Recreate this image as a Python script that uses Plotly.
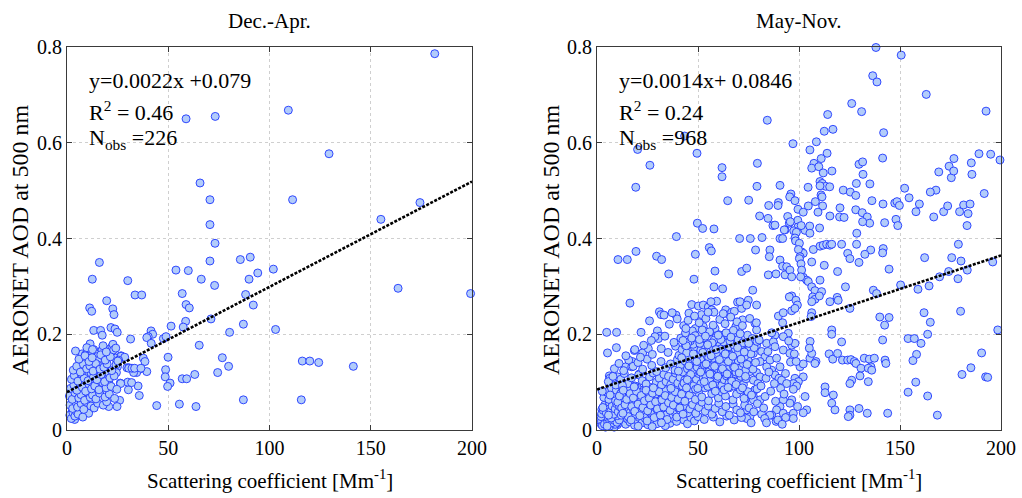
import plotly.graph_objects as go

# ---------------- Dec.-Apr. panel (scattering coefficient, AOD) ----------------
dec_apr_sparse = [
    (181.6, .786), (58.8, .650), (73.2, .655), (109.3, .668), (129.4, .577), (65.7, .516),
    (70.6, .481), (111.4, .481), (70.6, .429), (155.0, .440), (174.3, .475), (73.1, .390),
    (70.6, .353), (85.6, .356), (90.5, .361), (16.0, .350), (53.8, .334), (59.9, .333),
    (94.2, .328), (101.9, .336), (12.5, .315), (30.0, .312), (66.3, .315), (72.9, .302),
    (89.9, .315), (33.6, .282), (36.9, .282), (56.9, .285), (88.2, .283), (163.5, .296),
    (199.3, .285), (19.6, .270), (11.2, .255), (12.2, .248), (22.6, .253), (23.2, .241),
    (58.8, .262), (60.4, .255), (92.0, .261), (71.1, .232), (58.6, .227), (57.4, .215),
    (87.1, .221), (103.0, .210), (80.3, .204), (51.4, .217), (13.2, .208), (16.6, .208),
    (17.4, .198), (21.7, .214), (23.7, .211), (24.8, .204), (31.4, .190), (41.5, .207),
    (42.3, .200), (40.1, .195), (39.4, .193), (41.6, .181), (47.6, .191), (48.9, .195),
    (65.3, .177), (49.9, .152), (76.7, .151), (79.8, .133), (74.4, .120), (48.7, .126),
    (48.5, .111), (50.9, .098), (49.7, .091), (56.9, .107), (59.1, .107), (63.1, .116),
    (116.2, .144), (119.9, .144), (124.3, .141), (141.4, .133), (87.1, .063), (115.7, .063),
    (44.3, .051), (55.5, .054), (63.7, .049), (37.7, .150), (38.5, .143), (39.4, .122),
    (35.9, .127), (34.4, .120), (35.1, .092), (35.7, .072), (30.3, .084), (30.0, .100),
    (31.9, .099), (32.9, .120), (26.3, .098), (26.0, .062), (24.7, .049), (20.6, .049),
    (26.7, .155), (29.6, .130), (30.6, .130),
]
dec_apr_edge = [
    (11.4, .180), (13.2, .168), (7.4, .159), (9.1, .157), (13.8, .160), (14.6, .153),
    (17.3, .167), (15.1, .145), (15.1, .136), (15.3, .127), (15.6, .117), (20.1, .168),
    (20.9, .160), (22.2, .174), (22.7, .179), (23.0, .167), (23.9, .150), (26.7, .154),
    (28.5, .152), (25.5, .146), (24.9, .132), (30.5, .129), (32.1, .129), (33.4, .129),
    (36.5, .129), (26.5, .097), (24.4, .120), (20.2, .118), (17.3, .111), (20.6, .100),
    (18.1, .094), (6.6, .108), (9.9, .124), (10.4, .118), (3.8, .042), (3.3, .035),
    (4.1, .028), (3.8, .022), (2.5, .038), (10.7, .035),
]
dec_apr_core = [
    (1.4, .031), (2.1, .024), (3.0, .036), (3.9, .029), (4.6, .039), (5.5, .033), (7.8, .027),
    (1.5, .052), (2.8, .045), (4.5, .057), (5.2, .048), (7.0, .055), (8.3, .043), (9.5, .058),
    (11.8, .050), (13.4, .046), (15.2, .056), (17.9, .052), (19.6, .059),
    (1.2, .071), (2.6, .064), (3.9, .078), (5.8, .067), (6.9, .074), (8.7, .062), (10.1, .079),
    (11.5, .068), (12.6, .073), (14.3, .065), (16.1, .077), (18.8, .069), (20.9, .075), (23.5, .066),
    (1.8, .087), (3.4, .094), (4.9, .083), (6.3, .098), (7.6, .089), (9.2, .081), (10.8, .096),
    (12.1, .086), (13.7, .092), (15.8, .084), (17.6, .099), (19.3, .088), (21.8, .091), (24.6, .085),
    (2.2, .106), (3.6, .114), (5.4, .102), (7.1, .117), (8.5, .108), (10.4, .103), (11.9, .119),
    (13.1, .111), (14.8, .105), (16.9, .116), (18.6, .101), (21.2, .109), (23.3, .113),
    (3.1, .125), (4.8, .133), (6.6, .121), (8.1, .137), (9.7, .128), (11.3, .134), (12.9, .123),
    (14.1, .139), (16.3, .127), (18.2, .131), (19.8, .138), (22.1, .124), (24.2, .136),
    (5.9, .148), (8.9, .155), (10.9, .143), (12.4, .151), (16.7, .157), (18.9, .146),
    (21.4, .153), (25.1, .144),
    (4.2, .165), (9.8, .172), (12.6, .168), (17.8, .176), (19.4, .163), (24.1, .171),
]

# ---------------- May-Nov. panel ----------------
may_nov_top = [
    (138.1, .799), (150.6, .783), (136.5, .740), (138.6, .727), (163.0, .701), (126.1, .682),
    (131.0, .665), (192.6, .666), (84.3, .647), (114.2, .659), (112.5, .624), (116.8, .628),
    (141.9, .621), (43.4, .614), (97.0, .598), (108.6, .602), (105.4, .585),
    (113.9, .578), (111.0, .567), (107.4, .557), (106.3, .547), (109.8, .550), (112.0, .537),
    (110.4, .519), (111.5, .515), (113.2, .509), (115.2, .508), (116.3, .541),
    (20.1, .586), (26.2, .553), (19.2, .507), (49.5, .578), (61.9, .548), (61.9, .529),
    (79.4, .557), (79.2, .509), (90.6, .511), (104.5, .507), (129.7, .555), (131.5, .560),
    (131.7, .534), (135.1, .514), (128.4, .515), (141.4, .568), (152.3, .505), (167.8, .501),
    (169.2, .539), (174.3, .551), (176.7, .567), (175.4, .527), (176.6, .541), (185.3, .558),
    (185.6, .534), (189.1, .577), (194.9, .576), (199.5, .564),
]
may_nov_upper = [
    (64.7, .479), (75.1, .480), (85.0, .469), (89.8, .475), (89.6, .469),
    (96.0, .493), (95.4, .487), (98.0, .479), (99.5, .461), (102.1, .455), (80.5, .447),
    (84.7, .442), (87.1, .427), (94.4, .446), (95.2, .432), (99.4, .438), (99.5, .424),
    (93.1, .418), (97.4, .416), (98.7, .413), (103.0, .417), (105.3, .426), (105.4, .411),
    (110.4, .510), (110.9, .491), (111.4, .487), (108.1, .477), (111.7, .468), (109.4, .455),
    (110.2, .422), (115.3, .447), (104.6, .468), (120.3, .464), (120.1, .445), (122.3, .444),
    (121.9, .501), (125.4, .497), (128.1, .490), (128.1, .460), (131.3, .454), (133.8, .445),
    (135.0, .432), (131.5, .435), (128.6, .411), (136.1, .479), (141.6, .472), (142.4, .433),
    (147.4, .474), (148.5, .477), (149.7, .469), (148.0, .440), (148.9, .427), (154.5, .485),
    (157.9, .456), (159.6, .472), (165.0, .497), (166.7, .445), (171.6, .456), (173.6, .468),
    (179.5, .456), (181.5, .470), (183.7, .452), (184.7, .472), (183.2, .427), (191.7, .494),
    (49.7, .432), (52.3, .421), (57.9, .420), (39.3, .404), (70.6, .400), (75.9, .400),
    (81.7, .402), (90.6, .400), (91.9, .400), (98.0, .401), (88.1, .428), (92.7, .418),
    (95.7, .435), (101.1, .427),
]
may_nov_mid_left = [
    (10.4, .356), (15.0, .356), (19.3, .373), (29.5, .363), (32.0, .356), (35.5, .326),
    (48.7, .367), (55.6, .381), (56.6, .374), (58.4, .332), (48.0, .315), (57.9, .299),
    (62.2, .295), (16.3, .265), (46.9, .262), (50.2, .259), (52.6, .261), (55.1, .257),
    (56.8, .251), (57.9, .246), (59.2, .269), (56.4, .268), (63.7, .251), (65.3, .241),
    (66.7, .246), (68.0, .248), (69.6, .267), (71.6, .254), (30.9, .247), (31.7, .241),
    (33.2, .240), (39.1, .240), (45.5, .244), (51.8, .241), (48.7, .212), (52.6, .216),
    (58.4, .212), (29.9, .207), (4.8, .204), (9.7, .204), (21.8, .204), (47.2, .207),
    (54.3, .205), (55.9, .204), (67.5, .202), (72.1, .230), (68.7, .216),
]
may_nov_left_low = [
    (31.2, .196), (30.4, .191), (18.5, .166), (22.6, .161), (25.4, .170), (14.2, .132),
    (17.2, .132), (17.5, .143), (6.1, .113), (6.4, .108), (10.2, .111), (6.8, .074),
    (21.0, .117), (28.7, .195),
]
may_nov_mid_right = [
    (78.5, .376), (98.3, .395), (100.2, .390), (101.3, .372), (102.1, .369), (99.7, .377),
    (100.5, .362), (107.1, .377), (110.4, .384), (112.0, .386), (113.7, .388), (115.3, .386),
    (116.2, .388), (121.1, .388), (128.5, .388), (135.5, .376),
    (85.6, .376), (85.3, .362), (90.6, .355), (91.9, .342), (93.9, .341), (93.1, .324),
    (95.5, .334), (96.4, .320), (100.2, .358), (101.0, .347), (101.3, .334), (102.1, .319),
    (103.8, .313), (106.3, .351), (112.5, .344), (119.1, .331), (124.1, .369), (125.2, .358),
    (129.7, .350), (132.6, .367),
    (71.6, .331), (74.1, .338), (84.8, .324), (88.6, .326), (100.8, .320), (104.6, .310),
    (110.4, .313), (106.3, .299), (107.9, .291), (111.2, .289), (106.8, .278), (107.9, .273),
    (110.1, .280), (123.0, .299), (96.4, .280), (95.2, .278), (98.5, .271), (99.2, .261),
    (136.8, .292), (138.4, .285), (77.1, .292), (74.9, .271), (118.9, .277),
]
may_nov_low_right = [
    (70.8, .268), (74.1, .261), (79.0, .261), (78.2, .223), (79.0, .209), (89.8, .238),
    (92.2, .245), (96.4, .249), (98.0, .254), (106.3, .268), (106.3, .245), (106.0, .237),
    (115.3, .268), (119.4, .271), (125.2, .254), (116.2, .209), (116.2, .200), (121.1, .184),
    (94.7, .202), (92.2, .195), (88.1, .198), (86.5, .203), (91.9, .224),
    (74.1, .177), (79.0, .177), (84.0, .181), (87.3, .184), (88.1, .174), (92.2, .167),
    (96.4, .177), (98.0, .181), (95.5, .160),
    (72.4, .160), (77.4, .160), (81.5, .164), (83.2, .153), (85.6, .146), (88.9, .150),
    (90.6, .132), (86.5, .125), (84.0, .132), (88.1, .115), (90.1, .108), (91.4, .104),
    (80.7, .143), (77.4, .139), (73.3, .132), (75.7, .122), (79.0, .120), (80.7, .111),
    (77.4, .104), (79.7, .097), (78.2, .084), (77.4, .070), (74.1, .073), (73.3, .063),
    (100.5, .132), (102.1, .138), (105.4, .150), (106.3, .160), (108.4, .143), (107.9, .139),
    (105.5, .185), (105.1, .171), (114.9, .159), (116.7, .148),
    (119.1, .160), (121.5, .146), (124.1, .146), (125.7, .147), (127.4, .143), (128.2, .139),
    (130.7, .129), (132.3, .150), (134.8, .148), (135.6, .132), (137.3, .150), (134.3, .129),
    (136.0, .125), (134.3, .101), (130.2, .113), (126.1, .104), (125.2, .097),
    (112.9, .090), (112.9, .078), (117.0, .073), (116.2, .056), (117.8, .042), (125.2, .042),
    (125.2, .031), (124.4, .028), (129.7, .045), (133.8, .035),
    (102.1, .111), (98.0, .108), (99.7, .101), (97.2, .097), (98.8, .092), (97.2, .085),
    (93.9, .097), (103.0, .070), (103.8, .042), (102.1, .036), (96.4, .063), (95.5, .056),
    (92.2, .063), (90.6, .049), (88.9, .042), (86.5, .031), (92.2, .035), (94.7, .028),
    (97.2, .035), (97.2, .024), (75.7, .028), (72.4, .028), (74.1, .024), (81.5, .033),
    (85.6, .031), (80.7, .063), (83.2, .070), (77.4, .063), (74.1, .042),
]
may_nov_far_right = [
    (141.7, .379), (141.4, .370), (144.6, .336), (150.3, .303), (158.9, .294), (164.4, .301),
    (169.6, .320), (174.1, .331), (175.6, .360), (178.9, .388), (180.2, .353), (183.3, .334),
    (178.7, .316), (195.9, .351), (162.2, .360), (144.6, .235), (140.0, .236), (142.4, .219),
    (161.9, .245), (165.0, .225), (180.0, .248), (163.7, .200), (198.4, .209), (141.4, .188),
    (142.6, .146), (143.0, .139), (154.0, .191), (157.1, .191), (160.4, .181), (158.2, .158),
    (156.4, .145), (157.8, .100), (154.0, .079), (163.7, .071), (168.5, .031), (180.7, .116),
    (185.1, .130), (190.4, .161), (192.4, .111), (193.4, .110), (143.9, .035),
]
may_nov_dense_low = [
    (2.1, .012), (2.8, .018), (3.3, .008), (3.9, .024), (4.4, .014), (4.9, .020), (5.5, .010),
    (6.0, .027), (6.6, .016), (7.1, .009), (7.7, .022), (8.2, .013), (8.8, .028), (9.4, .018),
    (10.1, .011), (10.6, .024), (11.3, .016), (11.9, .029), (2.5, .026), (3.6, .016), (5.1, .030),
    (6.9, .019), (8.5, .006), (9.8, .026), (4.2, .006), (5.8, .014), (7.4, .029), (3.0, .022),
    (6.3, .008), (9.0, .012),
    (12.6, .019), (13.4, .027), (14.2, .012), (15.1, .023), (16.3, .017), (17.4, .028),
    (18.6, .010), (19.8, .021), (21.0, .026), (22.3, .015), (23.9, .024), (25.2, .011),
    (26.7, .029), (28.0, .019), (29.6, .013), (31.2, .026), (32.9, .020), (34.5, .028),
    (36.1, .014), (37.8, .024), (39.4, .018), (41.3, .029), (43.0, .021), (44.8, .013),
    (46.5, .026), (48.2, .019), (50.0, .028), (20.4, .008), (27.3, .007), (33.8, .009),
    (53.1, .022), (57.6, .027), (60.8, .017), (64.2, .029), (67.9, .021), (71.5, .026),
    (76.3, .015), (83.0, .024), (88.7, .018), (93.4, .026),
    (2.2, .019), (2.7, .009), (3.2, .030), (3.7, .012), (4.1, .033), (4.8, .026), (5.3, .017),
    (5.6, .039), (6.2, .021), (6.7, .034), (7.3, .015), (7.9, .037), (8.6, .020), (9.2, .031),
    (9.9, .016), (10.4, .042), (11.0, .021), (11.6, .037), (2.4, .043), (3.5, .045),
    (4.3, .029), (5.0, .008), (6.4, .044), (7.0, .025), (8.0, .045), (8.9, .038), (10.2, .030),
    (3.9, .037), (2.0, .028), (6.0, .035),
]
may_nov_dense_b = [
    (2.3, .034), (3.1, .041), (3.8, .052), (4.6, .036), (5.3, .047), (6.1, .058), (6.8, .039),
    (7.5, .050), (8.3, .033), (9.0, .044), (9.7, .055), (10.5, .038), (11.2, .049), (12.0, .031),
    (12.8, .057), (13.6, .042), (14.4, .035), (15.0, .051), (2.9, .047), (5.7, .031),
    (15.8, .044), (16.5, .037), (17.3, .055), (18.1, .041), (18.9, .033), (19.6, .049),
    (20.5, .058), (21.3, .036), (22.0, .045), (22.8, .053), (23.7, .031), (24.5, .042),
    (25.4, .057), (26.2, .037), (27.1, .048), (28.0, .034), (28.8, .055), (29.7, .043),
    (30.6, .051), (31.5, .036), (32.4, .046), (33.3, .058), (34.2, .039), (35.1, .049),
    (36.0, .032), (36.9, .055), (37.8, .043), (38.7, .037), (39.6, .052), (40.5, .045),
    (41.4, .034), (42.3, .057), (43.2, .041), (44.1, .049), (44.9, .036), (17.8, .059),
    (21.7, .039), (26.8, .059), (33.9, .031), (38.2, .059),
    (46.0, .044), (47.3, .053), (48.9, .035), (50.4, .047), (52.0, .058), (53.6, .039),
    (55.1, .050), (56.9, .033), (58.5, .045), (60.3, .056), (62.0, .038), (63.8, .049),
    (65.5, .031), (67.4, .054), (69.2, .042), (71.0, .036), (73.1, .052), (75.3, .046),
    (77.6, .038), (79.4, .055),
]
may_nov_dense_c = [
    (3.4, .068), (4.7, .079), (5.9, .064), (7.2, .087), (8.4, .071), (9.6, .083), (10.9, .066),
    (11.7, .076), (12.5, .088), (13.3, .062), (14.1, .074), (14.8, .085), (6.5, .073),
    (9.2, .061), (2.6, .081),
    (15.7, .069), (16.6, .081), (17.5, .063), (18.4, .075), (19.3, .087), (20.2, .067),
    (21.1, .079), (22.0, .062), (22.9, .084), (23.8, .071), (24.7, .065), (25.6, .078),
    (26.5, .089), (27.4, .068), (28.3, .080), (29.2, .062), (30.1, .073), (31.0, .085),
    (31.9, .066), (32.8, .077), (33.7, .089), (34.6, .070), (35.5, .061), (36.4, .082),
    (37.3, .074), (38.2, .066), (39.1, .087), (40.0, .078), (40.9, .064), (41.8, .071),
    (42.7, .085), (43.6, .068), (44.5, .079), (19.8, .090), (24.2, .086), (28.9, .075),
    (34.0, .082), (37.9, .063), (42.1, .061), (16.2, .088),
    (45.8, .073), (47.2, .086), (48.7, .064), (50.3, .078), (51.9, .069), (53.5, .088),
    (55.2, .061), (56.8, .076), (58.5, .083), (60.1, .067), (61.9, .079), (63.6, .071),
    (65.4, .088), (67.3, .063), (69.1, .075), (71.0, .084), (72.8, .066), (74.7, .080),
    (76.5, .073), (79.2, .086),
]
may_nov_dense_d = [
    (5.6, .101), (7.9, .112), (9.3, .094), (11.8, .106), (13.5, .118), (15.4, .097),
    (17.1, .109), (18.8, .092), (20.6, .115), (22.4, .103), (24.3, .096), (26.0, .111),
    (27.8, .119), (29.4, .100), (12.6, .093),
    (30.8, .108), (31.9, .094), (33.1, .116), (34.2, .101), (35.4, .112), (36.5, .095),
    (37.7, .106), (38.8, .119), (40.0, .098), (41.1, .110), (42.3, .092), (43.4, .104),
    (44.6, .117), (45.7, .099), (46.9, .111), (48.0, .093), (49.2, .106), (50.3, .118),
    (51.5, .097), (52.6, .109), (53.8, .114), (54.9, .091), (56.1, .103), (57.2, .116),
    (58.4, .096), (59.5, .108), (60.7, .119), (61.8, .093), (63.0, .105), (64.1, .113),
    (65.3, .098), (66.4, .110), (67.6, .092), (68.7, .117), (70.0, .101), (71.2, .112),
    (72.5, .095), (73.8, .107), (56.6, .120), (47.5, .120),
]
may_nov_dense_e = [
    (8.6, .128), (10.9, .139), (13.2, .124), (15.7, .146), (17.9, .133), (20.3, .141),
    (22.6, .127), (24.8, .148), (27.1, .135), (29.5, .122), (31.7, .143), (34.0, .130),
    (36.4, .138), (38.6, .125), (39.8, .147),
    (41.2, .133), (42.4, .121), (43.6, .144), (44.8, .128), (46.0, .139), (47.2, .124),
    (48.4, .147), (49.6, .131), (50.8, .142), (52.0, .126), (53.2, .136), (54.4, .149),
    (55.6, .122), (56.8, .134), (58.0, .145), (59.2, .129), (60.4, .140), (61.6, .123),
    (62.8, .137), (64.0, .148), (65.2, .127), (66.4, .141), (67.6, .132), (68.8, .121),
    (70.0, .144), (71.2, .130), (72.4, .139), (73.6, .125), (74.8, .146), (76.0, .134),
    (77.2, .127), (78.5, .141), (57.4, .150), (63.3, .121), (51.4, .149),
]
may_nov_dense_f = [
    (5.2, .161), (9.6, .172), (14.3, .155), (18.7, .168), (23.1, .177), (27.4, .158),
    (31.8, .170), (35.2, .162), (38.9, .175), (21.5, .152),
    (40.6, .156), (42.1, .168), (43.7, .177), (45.2, .153), (46.8, .164), (48.3, .172),
    (49.9, .158), (51.4, .167), (53.0, .178), (54.5, .155), (56.1, .163), (57.6, .171),
    (59.2, .159), (60.7, .176), (62.3, .152), (63.8, .166), (65.4, .174), (66.9, .157),
    (68.5, .169), (70.0, .161), (71.6, .178), (73.1, .154), (74.7, .166), (76.2, .159),
    (77.8, .172), (47.6, .179), (55.3, .151), (61.1, .169), (67.7, .178), (44.4, .161),
]
may_nov_dense_gh = [
    (26.9, .187), (33.6, .196), (38.1, .183), (41.5, .192), (43.8, .203), (46.2, .186),
    (48.6, .197), (50.9, .181), (53.3, .193), (55.7, .205), (58.0, .188), (60.4, .199),
    (62.7, .184), (65.1, .195), (67.5, .208), (69.8, .189), (72.2, .182), (74.5, .198),
    (76.9, .191), (79.2, .185), (52.1, .209), (57.0, .182), (63.9, .203), (44.9, .182),
    (70.9, .201),
    (26.0, .228), (35.8, .221), (39.7, .232), (42.9, .218), (45.1, .229), (50.6, .224),
    (53.9, .233), (57.5, .219), (60.8, .231), (63.4, .222), (66.2, .236), (69.3, .226),
    (72.0, .218), (75.6, .233), (78.9, .224), (48.3, .238), (55.0, .246), (62.5, .243),
    (37.2, .245), (44.0, .212),
]
may_nov_extra_mid = [
    (40.3, .123), (41.9, .151), (43.1, .098), (44.2, .176), (45.5, .134), (46.4, .116),
    (47.7, .159), (48.8, .085), (49.4, .143), (50.7, .189), (51.3, .121), (52.4, .162),
    (53.1, .101), (54.0, .138), (54.8, .178), (55.9, .117), (56.5, .155), (57.3, .094),
    (58.2, .133), (58.9, .168), (59.8, .112), (60.6, .147), (61.3, .189), (62.1, .128),
    (62.9, .084), (63.5, .159), (64.4, .117), (65.0, .143), (65.8, .186), (66.7, .102),
    (67.2, .154), (68.1, .131), (68.9, .095), (69.6, .172), (70.4, .119), (71.3, .148),
    (72.0, .088), (72.9, .163), (73.5, .112), (74.3, .137), (75.1, .181), (42.6, .187),
    (46.9, .192), (53.7, .196), (60.0, .198), (66.3, .194), (44.7, .105), (49.9, .087),
    (58.6, .081), (64.9, .089),
]
may_nov_extra_low = [
    (10.3, .058), (11.1, .071), (12.2, .046), (13.0, .083), (13.9, .053), (14.7, .064),
    (15.5, .028), (16.4, .076), (17.2, .049), (18.0, .067), (18.7, .039), (19.5, .081),
    (20.3, .054), (21.2, .030), (21.9, .072), (22.7, .047), (23.5, .061), (24.3, .083),
    (25.1, .040), (25.9, .066), (26.6, .052), (27.5, .077), (28.3, .026), (29.0, .059),
    (29.9, .044), (30.7, .080), (31.4, .031), (32.2, .063), (33.0, .048), (33.8, .072),
    (34.7, .022), (35.4, .057), (36.2, .041), (37.0, .068), (37.8, .052), (38.7, .080),
    (39.5, .027), (40.2, .064), (41.0, .046), (41.9, .075), (42.6, .033), (43.5, .060),
    (44.3, .088), (12.8, .035), (16.9, .021), (24.8, .019), (31.9, .015), (18.4, .090),
    (27.9, .088), (36.6, .087),
    (81.2, .092), (83.7, .108), (86.0, .081), (88.4, .060), (90.9, .087), (93.3, .118),
    (95.8, .142), (82.5, .046), (85.1, .121), (87.8, .097), (92.6, .075), (94.9, .186),
    (97.7, .159), (99.3, .049), (84.6, .164), (89.5, .021), (80.3, .188), (91.7, .012),
    (83.9, .015), (98.6, .143),
]

# regression fits and labels
fit_slope = [0.0022, 0.0014]
fit_intercept = [0.079, 0.0846]
fit_x = [0, 200]
panel_titles = ["Dec.-Apr.", "May-Nov."]
eq_text = ["y=0.0022x +0.079", "y=0.0014x+ 0.0846"]
r2_text = ["R<sup>2</sup> = 0.46", "R<sup>2</sup> = 0.24"]
n_text = ["N<sub>obs</sub> =226", "N<sub>obs</sub> =968"]
x_ticks = [0, 50, 100, 150, 200]
y_ticks = [0, 0.2, 0.4, 0.6, 0.8]
y_tick_text = ["0", "0.2", "0.4", "0.6", "0.8"]
x_title = "Scattering coefficient [Mm<sup>-1</sup>]"
y_title = "AERONET AOD at 500 nm"


def unzip(*groups):
    pts = [p for g in groups for p in g]
    return [p[0] for p in pts], [p[1] for p in pts]


dx, dy = unzip(dec_apr_sparse, dec_apr_edge, dec_apr_core)
mx, my = unzip(may_nov_top, may_nov_upper, may_nov_mid_left, may_nov_left_low,
               may_nov_mid_right, may_nov_low_right, may_nov_far_right,
               may_nov_dense_low, may_nov_dense_b, may_nov_dense_c, may_nov_dense_d,
               may_nov_dense_e, may_nov_dense_f, may_nov_dense_gh,
               may_nov_extra_mid, may_nov_extra_low)

FONT = "Liberation Serif"
marker = dict(symbol="circle", size=8, color="rgb(178,204,250)",
              line=dict(color="rgb(30,55,255)", width=0.9))

fig = go.Figure()
series = [(dx, dy, "x", "y"), (mx, my, "x2", "y2")]
for i, (sx, sy, xa, ya) in enumerate(series):
    fig.add_trace(go.Scatter(x=sx, y=sy, mode="markers", marker=marker,
                             xaxis=xa, yaxis=ya, cliponaxis=False, showlegend=False))
    fy = [fit_slope[i] * v + fit_intercept[i] for v in fit_x]
    fig.add_trace(go.Scatter(x=fit_x, y=fy, mode="lines",
                             line=dict(color="black", width=2.6, dash="3px,1.5px"),
                             xaxis=xa, yaxis=ya, showlegend=False))

W, H = 1022, 498
dom_x = [[67 / W, 472 / W], [597 / W, 1001 / W]]
dom_y = [68 / H, 451 / H]

axis_common = dict(showline=True, linecolor="#3a3a3a", linewidth=1, mirror="ticks",
                   ticks="inside", ticklen=5, tickcolor="#3a3a3a", automargin=False,
                   showgrid=True, gridcolor="#cfcfcf", griddash="dot", gridwidth=1,
                   zeroline=False, tickfont=dict(family=FONT, size=20, color="black"))

layout_axes = {}
for i in range(2):
    sfx = "" if i == 0 else "2"
    layout_axes["xaxis" + sfx] = dict(axis_common, domain=dom_x[i], range=[0, 200],
                                      tickvals=x_ticks, anchor="y" + sfx)
    layout_axes["yaxis" + sfx] = dict(axis_common, domain=dom_y, range=[0, 0.8],
                                      tickvals=y_ticks, ticktext=y_tick_text,
                                      anchor="x" + sfx)

annotations = []
for i in range(2):
    sfx = "" if i == 0 else "2"
    cx = (dom_x[i][0] + dom_x[i][1]) / 2
    annotations.append(dict(text=panel_titles[i], x=cx, y=(H - 21) / H, xref="paper",
                            yref="paper", showarrow=False, xanchor="center", yanchor="middle",
                            font=dict(family=FONT, size=21, color="black")))
    annotations.append(dict(text=x_title, x=cx, y=(H - 479) / H, xref="paper",
                            yref="paper", showarrow=False, xanchor="center", yanchor="middle",
                            font=dict(family=FONT, size=21, color="black")))
    ylx = [20, 551][i]
    annotations.append(dict(text=y_title, x=ylx / W, y=(H - 240) / H, xref="paper",
                            yref="paper", showarrow=False, textangle=-90,
                            xanchor="center", yanchor="middle",
                            font=dict(family=FONT, size=24, color="black")))
    for txt, yv in [(eq_text[i], 0.731), (r2_text[i], 0.667), (n_text[i], 0.607)]:
        annotations.append(dict(text=txt, x=10, y=yv, xref="x" + sfx, yref="y" + sfx,
                                showarrow=False, xanchor="left", yanchor="middle",
                                font=dict(family=FONT, size=22, color="black")))

fig.update_layout(width=W, height=H, margin=dict(l=0, r=0, t=0, b=0),
                  paper_bgcolor="white", plot_bgcolor="white",
                  annotations=annotations, **layout_axes)

fig.write_html("out.html", config={"displayModeBar": False},
               post_script="document.body.style.margin='0';document.body.style.overflow='hidden';")
